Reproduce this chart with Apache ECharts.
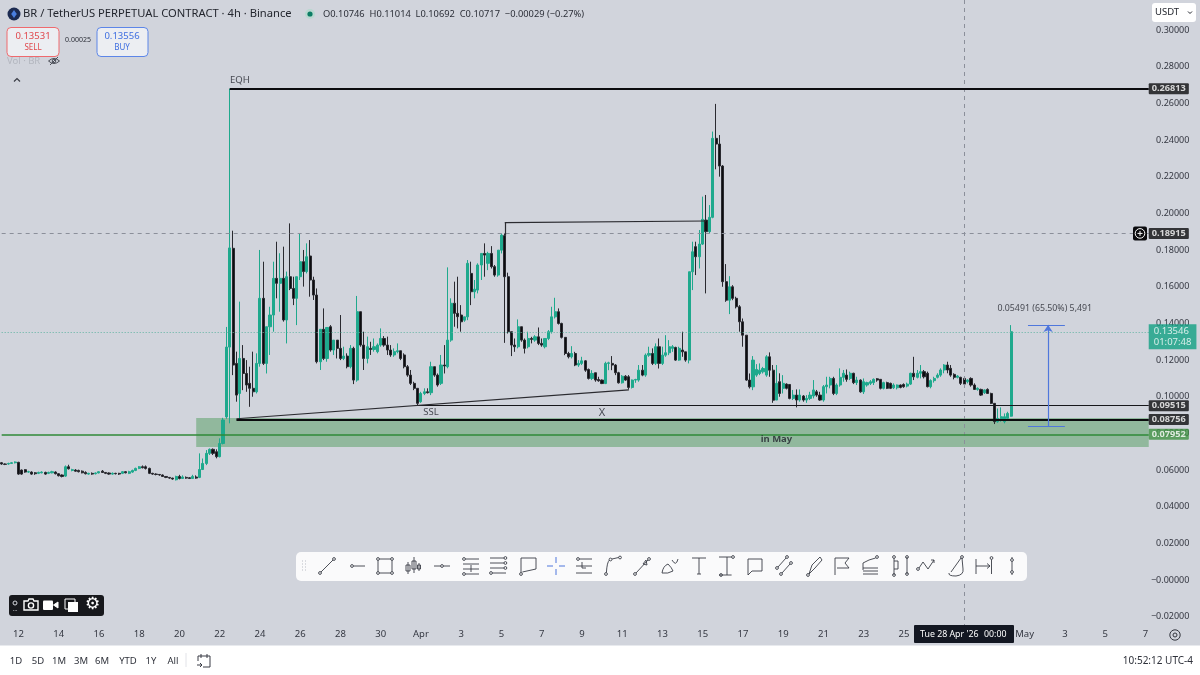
<!DOCTYPE html>
<html lang="en">

<head>
  <meta charset="UTF-8" />
  <title>BR / TetherUS 4h</title>
  <style>
    * {
      padding: 0;
      margin: 0;
    }

    html,
    body {
      width: 100%;
      height: 100%;
      background: #d1d4dc;
    }

    #chart {
      width: 1200px;
      height: 675px;
    }
  </style>
</head>

<body>
  <div id="chart"></div>
  <script src="https://cdn.jsdelivr.net/npm/echarts@6/dist/echarts.min.js"></script>
  <script>
    // candle rows are [open, close, low, high], one per 4h bar, first bar is Mar 11 04:00
    var candlesFlatMarch = [
      [.0640,.0633,.0629,.0644],[.0633,.0631,.0627,.0636],[.0633,.0636,.0629,.0640],[.0636,.0640,.0633,.0644],[.0640,.0644,.0636,.0647],
      [.0642,.0578,.0574,.0645],[.0600,.0578,.0574,.0603],[.0602,.0589,.0585,.0605],[.0589,.0591,.0585,.0596],[.0589,.0578,.0574,.0593],
      [.0585,.0580,.0574,.0589],[.0582,.0587,.0578,.0591],[.0585,.0589,.0582,.0593],[.0587,.0578,.0574,.0591],[.0582,.0587,.0578,.0591],
      [.0585,.0591,.0582,.0596],[.0589,.0580,.0576,.0593],[.0580,.0569,.0565,.0582],[.0573,.0565,.0560,.0576],[.0567,.0618,.0563,.0625],
      [.0618,.0607,.0603,.0629],[.0598,.0602,.0593,.0607],[.0600,.0594,.0591,.0605],[.0598,.0591,.0587,.0602],[.0594,.0585,.0582,.0598],
      [.0587,.0580,.0576,.0593],[.0578,.0582,.0574,.0585],[.0582,.0578,.0574,.0587],[.0580,.0584,.0576,.0587],[.0584,.0591,.0582,.0594],
      [.0594,.0587,.0585,.0600],[.0587,.0582,.0578,.0589],[.0584,.0578,.0574,.0587],[.0578,.0582,.0574,.0587],[.0582,.0580,.0576,.0585],
      [.0582,.0578,.0573,.0585],[.0582,.0591,.0578,.0594],[.0591,.0585,.0582,.0594],[.0582,.0591,.0578,.0596],[.0589,.0598,.0585,.0602],
      [.0598,.0609,.0594,.0613],[.0609,.0618,.0605,.0622],[.0618,.0613,.0609,.0625],[.0618,.0609,.0603,.0625],[.0609,.0582,.0578,.0613],
      [.0582,.0578,.0574,.0585],[.0578,.0576,.0571,.0582],[.0576,.0573,.0569,.0578],[.0573,.0565,.0562,.0576],[.0565,.0560,.0556,.0567],
      [.0560,.0556,.0552,.0562],[.0556,.0551,.0547,.0558],[.0547,.0565,.0543,.0569],[.0565,.0554,.0549,.0574],[.0554,.0562,.0551,.0571],
      [.0560,.0556,.0552,.0565],[.0558,.0554,.0551,.0562],[.0554,.0565,.0551,.0574],[.0562,.0556,.0552,.0571],[.0560,.0603,.0556,.0691],
      [.0603,.0636,.0600,.0663],[.0636,.0691,.0627,.0709],[.0691,.0713,.0682,.0718],[.0713,.0691,.0682,.0718],[.0700,.0673,.0664,.0713],
      [.0673,.0745,.0669,.0773],[.0745,.0873,.0740,.0885]
    ]
    var candlesSpikeRange = [
      [.0890,.1271,.0880,.1381],[.1271,.1812,.0855,.2681],[.1810,.1173,.1118,.1906],[.1182,.1009,.0973,.1246],[.1018,.1209,.0882,.1519],
      [.1209,.1127,.1036,.1282],[.1127,.1064,.1027,.1200],[.1073,.1046,.0945,.1164],[.1046,.1027,.1000,.1246],[.1027,.1182,.1018,.1237],
      [.1182,.1537,.1164,.1801],[.1537,.1182,.1173,.1737],[.1182,.1382,.1127,.1382],[.1382,.1446,.1228,.1491],[.1446,.1646,.1355,.1737],
      [.1646,.1619,.1537,.1846],[.1619,.1646,.1464,.1783],[.1646,.1419,.1410,.1819],[.1419,.1655,.1291,.1683],[.1655,.1591,.1582,.1946],
      [.1591,.1537,.1500,.1655],[.1537,.1655,.1391,.1655],[.1655,.1737,.1637,.1892],[.1737,.1683,.1601,.1801],[.1683,.1764,.1673,.1837],
      [.1768,.1637,.1546,.1855],[.1637,.1555,.1528,.1655],[.1555,.1191,.1182,.1591],[.1191,.1368,.1146,.1368],[.1368,.1209,.1200,.1482],
      [.1209,.1378,.1191,.1378],[.1382,.1255,.1246,.1391],[.1255,.1309,.1228,.1309],[.1309,.1264,.1209,.1309],[.1264,.1209,.1200,.1446],
      [.1209,.1222,.1200,.1273],[.1222,.1164,.1155,.1237],[.1164,.1264,.1155,.1282],[.1264,.1091,.1069,.1273],[.1091,.1464,.1082,.1550],
      [.1464,.1282,.1273,.1464],[.1282,.1209,.1146,.1355],[.1209,.1273,.1182,.1328],[.1264,.1258,.1228,.1300],[.1258,.1273,.1246,.1318],
      [.1246,.1282,.1237,.1291],[.1282,.1318,.1273,.1373],[.1318,.1282,.1273,.1331],[.1282,.1255,.1228,.1328],[.1255,.1228,.1218,.1282],
      [.1228,.1246,.1218,.1264],[.1246,.1251,.1237,.1291],[.1251,.1209,.1200,.1251],[.1228,.1164,.1155,.1237],[.1164,.1118,.1109,.1173],
      [.1118,.1073,.1064,.1146],[.1073,.1046,.1036,.1082],[.1046,.0964,.0954,.1046],[.0973,.1018,.0967,.1027],[.1018,.1027,.1009,.1046],
      [.1027,.1022,.1018,.1046],[.1022,.1164,.1009,.1191],[.1164,.1118,.1109,.1164],[.1118,.1064,.1055,.1127],[.1073,.1173,.1064,.1228],
      [.1173,.1168,.1127,.1282],[.1164,.1309,.1155,.1706],[.1309,.1510,.1300,.1537],[.1510,.1455,.1382,.1628],[.1455,.1437,.1373,.1655]
    ]
    var candlesEarlyApril = [
      [.1446,.1409,.1355,.1500],[.1418,.1436,.1409,.1436],[.1436,.1728,.1418,.1746],[.1673,.1573,.1500,.1737],[.1573,.1587,.1537,.1637],
      [.1582,.1719,.1564,.1728],[.1719,.1782,.1637,.1782],[.1782,.1773,.1655,.1837],[.1728,.1782,.1691,.1791],[.1782,.1710,.1700,.1822],
      [.1710,.1664,.1655,.1719],[.1664,.1800,.1655,.1800],[.1800,.1882,.1782,.1891],[.1879,.1655,.1294,.1891],[.1655,.1355,.1345,.1677],
      [.1355,.1282,.1222,.1355],[.1282,.1273,.1245,.1318],[.1273,.1382,.1264,.1422],[.1382,.1309,.1300,.1382],[.1309,.1264,.1236,.1318],
      [.1273,.1318,.1264,.1355],[.1318,.1313,.1291,.1327],[.1309,.1327,.1300,.1336],[.1327,.1291,.1282,.1378],[.1291,.1282,.1273,.1318],
      [.1273,.1318,.1264,.1318],[.1318,.1355,.1309,.1364],[.1355,.1436,.1345,.1491],[.1436,.1464,.1427,.1540],[.1464,.1400,.1394,.1482],
      [.1400,.1324,.1318,.1404],[.1324,.1236,.1227,.1324],[.1236,.1218,.1209,.1245],[.1218,.1236,.1209,.1276],[.1236,.1173,.1167,.1245],
      [.1173,.1182,.1163,.1200],[.1182,.1196,.1173,.1218],[.1196,.1145,.1136,.1200],[.1149,.1100,.1094,.1154],[.1100,.1127,.1091,.1145],
      [.1131,.1091,.1082,.1131],[.1094,.1087,.1082,.1109],[.1091,.1072,.1069,.1094],[.1072,.1182,.1069,.1191],[.1182,.1185,.1145,.1191],
      [.1182,.1173,.1145,.1222],[.1173,.1131,.1118,.1178],[.1131,.1076,.1072,.1136],[.1076,.1112,.1072,.1118],[.1112,.1091,.1087,.1118],
      [.1109,.1051,.1040,.1118],[.1051,.1091,.1045,.1094],[.1091,.1094,.1076,.1098],[.1091,.1145,.1082,.1173],[.1145,.1118,.1112,.1173],
      [.1118,.1227,.1109,.1236],[.1227,.1236,.1218,.1273],[.1236,.1182,.1173,.1264],[.1182,.1273,.1173,.1291],[.1273,.1182,.1154,.1318],
      [.1182,.1227,.1173,.1273],[.1227,.1240,.1218,.1336],[.1240,.1273,.1227,.1309],[.1264,.1273,.1245,.1282],[.1269,.1200,.1196,.1273],
      [.1200,.1264,.1196,.1273],[.1255,.1245,.1218,.1355],[.1245,.1200,.1191,.1245]
    ]
    var candlesMidApril = [
      [.1200,.1682,.1182,.1682],[.1682,.1791,.1582,.1846],[.1819,.1764,.1664,.1846],[.1764,.1833,.1700,.1910],[.1833,.1968,.1828,.2092],
      [.1964,.1901,.1564,.2101],[.1901,.1979,.1891,.2046],[.1979,.2410,.1974,.2447],[.2410,.2379,.2241,.2598],[.2379,.2259,.2201,.2428],
      [.2259,.1628,.1600,.2264],[.1628,.1527,.1518,.1724],[.1527,.1600,.1451,.1658],[.1600,.1537,.1527,.1609],[.1537,.1491,.1482,.1546],
      [.1491,.1409,.1355,.1500],[.1409,.1336,.1273,.1427],[.1336,.1091,.1087,.1336],[.1091,.1054,.1045,.1127],[.1054,.1200,.1036,.1222],
      [.1118,.1149,.1109,.1178],[.1127,.1145,.1118,.1182],[.1136,.1154,.1127,.1163],[.1118,.1218,.1109,.1227],[.1218,.1145,.1109,.1242],
      [.1145,.0981,.0967,.1173]
    ]
    var candlesLateApril = [
      [.0982,.1073,.0982,.1173],[.1082,.1018,.1000,.1128],[.1046,.1073,.1018,.1118],[.1069,.1046,.1040,.1073],[.1067,.0991,.0986,.1067],
      [.0991,.1009,.0982,.1037],[.1009,.0982,.0942,.1040],[.0982,.1009,.0973,.1040],[.1004,.0982,.0973,.1009],[.0982,.0991,.0967,.1009],
      [.0991,.1009,.0982,.1027],[.1004,.1037,.0991,.1091],[.1027,.1009,.1000,.1037],[.1009,.0982,.0978,.1027],[.0982,.1055,.0973,.1064],
      [.1055,.1064,.1018,.1109],[.1064,.1100,.1046,.1109],[.1100,.1018,.1009,.1109],[.1018,.1064,.1009,.1073],[.1064,.1106,.1055,.1155],
      [.1106,.1128,.1082,.1146],[.1118,.1095,.1082,.1149],[.1100,.1128,.1091,.1137],[.1128,.1077,.1069,.1131],[.1077,.1091,.1064,.1109],
      [.1091,.1027,.1022,.1095],[.1027,.1082,.1015,.1100],[.1064,.1077,.1055,.1082],[.1073,.1082,.1064,.1091],[.1077,.1095,.1064,.1100],
      [.1098,.1091,.1082,.1102],[.1095,.1046,.1040,.1095],[.1046,.1077,.1040,.1082],[.1077,.1046,.1042,.1082],[.1073,.1046,.1042,.1077],
      [.1049,.1064,.1042,.1073],[.1049,.1064,.1040,.1067],[.1064,.1051,.1046,.1067],[.1067,.1055,.1049,.1073],[.1058,.1069,.1051,.1077],
      [.1069,.1128,.1064,.1131],[.1128,.1109,.1091,.1218],[.1106,.1128,.1100,.1146],[.1128,.1137,.1100,.1173],[.1137,.1109,.1100,.1146],
      [.1128,.1055,.1051,.1137],[.1055,.1088,.1046,.1095],[.1088,.1100,.1077,.1109],[.1106,.1118,.1100,.1128],[.1118,.1146,.1109,.1155],
      [.1146,.1173,.1128,.1178],[.1173,.1146,.1128,.1191],[.1155,.1118,.1109,.1173],[.1122,.1106,.1095,.1128],[.1106,.1113,.1100,.1118],
      [.1106,.1073,.1064,.1109],[.1100,.1069,.1064,.1106],[.1082,.1091,.1073,.1095],[.1100,.1064,.1055,.1106],[.1064,.1040,.1037,.1073],
      [.1040,.1046,.1033,.1051],[.1040,.1009,.1004,.1044],[.1022,.1037,.1015,.1040],[.1040,.1018,.1015,.1046],[.1018,.0964,.0960,.1022],
      [.0964,.0864,.0851,.0964],[.0864,.0882,.0858,.0936],[.0876,.0891,.0864,.0942],[.0864,.0891,.0855,.0909],[.0882,.0909,.0873,.0918],
      [.0894,.1355,.0891,.1391]
    ]

    var priceTicks = [-0.02, 0, 0.02, 0.04, 0.06, 0.08, 0.1, 0.12, 0.14, 0.16, 0.18, 0.2, 0.22, 0.24, 0.26, 0.28, 0.3]
    var priceMin = -0.0251
    var priceMax = 0.3165
    var dayTicks = {
      '03-12': '12', '03-14': '14', '03-16': '16', '03-18': '18', '03-20': '20', '03-22': '22', '03-24': '24',
      '03-26': '26', '03-28': '28', '03-30': '30', '04-01': 'Apr', '04-03': '3', '04-05': '5', '04-07': '7',
      '04-09': '9', '04-11': '11', '04-13': '13', '04-15': '15', '04-17': '17', '04-19': '19', '04-21': '21',
      '04-23': '23', '04-25': '25', '05-01': 'May', '05-03': '3', '05-05': '5', '05-07': '7'
    }
    var barCount = 343

    // bar index, price
    var eqhLine = [[68, 0.26813], [342, 0.26813]]
    var sslLine = [[70, 0.08756], [342, 0.08756]]
    var upperLevelLine = [[124, 0.09515], [342, 0.09515]]
    var mayLevelLine = [[0, 0.07952], [342, 0.07952]]
    var risingLine = [[70, 0.0880], [187, 0.1037]]
    var swingHighLine = [[150, 0.1879], [150, 0.1950], [210, 0.1959]]
    var measureTop = [[306, 0.1392], [317, 0.1392]]
    var measureBottom = [[306, 0.0840], [317, 0.0840]]
    var crossPrice = 0.18915
    var crossBar = 287
    var lastPrice = 0.13546
    var zoneBars = [58, 342]
    var zonePrices = [0.0884, 0.0726]

    var annotations = [
      [71, 0.2729, 'EQH', 9.5],
      [128, 0.0917, 'SSL', 9.5],
      [179, 0.0911, 'X', 11],
      [231, 0.0769, 'in May', 9.5],
      [311, 0.1484, '0.05491 (65.50%) 5,491', 8.8]
    ]
    var priceTags = [
      [0.26813, '#0b0b0e'],
      [0.18915, '#0b0b0e'],
      [0.09515, '#0b0b0e'],
      [0.08756, '#0b0b0e'],
      [0.07952, '#3f9142']
    ]

    var candles = candlesFlatMarch.concat(candlesSpikeRange, candlesEarlyApril, candlesMidApril, candlesLateApril)
    var categories = []
    for (var i = 0; i < barCount; i++) {
      var d = new Date(Date.UTC(2026, 2, 11, 4) + i * 4 * 3600000)
      categories.push(d.toISOString().slice(5, 10) + ' ' + d.toISOString().slice(11, 16))
    }

    var FONT = '"Noto Sans", sans-serif'
    var INK = '#2f323b'
    var chart = echarts.init(document.getElementById('chart'))

    function seg(points, width, color, type) {
      var out = []
      for (var n = 0; n < points.length - 1; n++) {
        out.push([
          { coord: points[n], lineStyle: { width: width, color: color, type: type || 'solid' } },
          { coord: points[n + 1] }
        ])
      }
      return out
    }

    var markLines = [].concat(
      seg([[crossBar, priceMax], [crossBar, priceMin]], 1, '#8b8f9a', [4, 4]),
      seg([[0, crossPrice], [342, crossPrice]], 1, '#8b8f9a', [4, 4]),
      seg([[0, lastPrice], [342, lastPrice]], 1, '#5fb3a1', [1, 2]),
      seg(eqhLine, 2, '#0b0b0e'),
      seg(sslLine, 2, '#0b0b0e'),
      seg(upperLevelLine, 1.2, '#17171b'),
      seg(mayLevelLine, 1.5, '#2f8a38'),
      seg(risingLine, 1.2, '#2b2b30'),
      seg(swingHighLine, 1.2, '#2b2b30'),
      seg(measureTop, 1.2, '#4f77dc'),
      seg(measureBottom, 1.2, '#4f77dc')
    )
    var measureArrow = [
      { coord: [312, 0.0840], symbol: 'none', lineStyle: { width: 1.2, color: '#4f77dc', type: 'solid' } },
      { coord: [312, 0.1392], symbol: 'arrow', symbolSize: 7 }
    ]
    markLines.push(measureArrow)

    // chrome of the trading page, not chart data
    var ui = []
    var iconCount = 0
    function text(x, y, str, size, color, align, weight) {
      ui.push({
        type: 'text', x: x, y: y, z: 110, silent: true,
        style: {
          text: str, fontSize: size, fontFamily: FONT, fill: color,
          align: align || 'left', verticalAlign: 'middle', fontWeight: weight || 'normal'
        }
      })
    }
    function box(x, y, w, h, fill, stroke, r, z) {
      ui.push({
        type: 'rect', z: z || 105, silent: true,
        shape: { x: x, y: y, width: w, height: h, r: r || 0 },
        style: { fill: fill, stroke: stroke || 'none', lineWidth: 1 }
      })
    }
    function ico(x, y, path, stroke, fill, width) {
      // graphic has no plain path type, so each icon is registered as its own shape
      var name = 'uiIcon' + iconCount++
      echarts.graphic.registerShape(name, echarts.graphic.extendPath(path, {}))
      ui.push({
        type: name, x: x, y: y, z: 112, silent: true,
        style: { fill: fill || 'none', stroke: stroke || INK, lineWidth: width || 1 }
      })
    }
    function dot(x, y, r) {
      r = r || 1.4
      return 'M' + (x - r) + ' ' + y + 'a' + r + ' ' + r + ' 0 1 0 ' + 2 * r + ' 0a' + r + ' ' + r + ' 0 1 0 ' + -2 * r + ' 0'
    }

    // bottom strip and header
    box(0, 645.5, 1200, 30, '#ffffff')
    ui.push({ type: 'circle', z: 110, silent: true, shape: { cx: 14, cy: 14, r: 6.5 }, style: { fill: '#1c2b52' } })
    ico(14, 14, 'M0 -4L2.8 0L0 4L-2.8 0Z', 'none', '#4a7fe0')
    text(23, 14, 'BR / TetherUS PERPETUAL CONTRACT \u00b7 4h \u00b7 Binance', 11.2, '#23262e')
    ui.push({ type: 'circle', z: 110, silent: true, shape: { cx: 310, cy: 14, r: 5 }, style: { fill: '#b9d8d0' } })
    ui.push({ type: 'circle', z: 111, silent: true, shape: { cx: 310, cy: 14, r: 2.6 }, style: { fill: '#0c7d65' } })
    text(323, 14, 'O0.10746  H0.11014  L0.10692  C0.10717  \u22120.00029 (\u22120.27%)', 9.3, '#2c2f38')
    box(7, 27.5, 52, 29, '#eceef2', '#ef6a6e', 4)
    text(33, 36, '0.13531', 9.5, '#e0484d', 'center')
    text(33, 48, 'SELL', 8, '#e0484d', 'center')
    text(78, 40, '0.00025', 7, '#2c2f38', 'center')
    box(97, 27.5, 51, 29, '#eceef2', '#5d86e8', 4)
    text(122, 36, '0.13556', 9.5, '#3f6fe0', 'center')
    text(122, 48, 'BUY', 8, '#3f6fe0', 'center')
    text(7, 61, 'Vol \u00b7 BR', 9.5, '#b3b6bf')
    ico(54, 61, 'M-5.5 0Q0 -5 5.5 0Q0 5 -5.5 0Z' + dot(0, 0, 1.8) + 'M-4 4L4 -4', '#4b4e58')
    ico(17, 80, 'M-3 1.5L0 -1.5L3 1.5', '#3a3d46', 'none', 1.2)

    // USDT selector
    box(1152, 3, 44, 19, '#ffffff', 'none', 3)
    text(1155, 12.5, 'USDT', 9.5, '#23262e')
    ico(1190, 12.5, 'M-2 -1L0 1L2 -1', '#23262e')

    // plus badge on the crosshair price
    box(1133, 226.5, 14, 14, '#0b0b0e', 'none', 2)
    ico(1140, 233.4, dot(0, 0, 4.8) + 'M-2.5 0L2.5 0M0 -2.5L0 2.5', '#ffffff')

    // crosshair date
    box(914, 625, 100, 18, '#131722', 'none', 1)
    text(920, 634.5, "Tue 28 Apr '26", 8.8, '#ffffff')
    text(984, 634.5, '00:00', 8.8, '#ffffff')

    // axis settings gear
    ico(1175, 635, dot(0, 0, 2) + dot(0, 0, 5.2), '#34373f')

    // drawing toolbar
    box(296, 552, 731, 29, '#fafafb', 'none', 5, 104)
    var toolX = [327, 357, 385, 413, 442, 471, 498, 528, 556, 584, 613, 642, 670, 699, 727, 755, 784, 814, 842, 870, 898, 926, 956, 984, 1012]
    var toolPaths = [
      dot(-7, 7) + 'M-6 6L6 -6' + dot(7, -7),
      dot(-5, 0) + 'M-3.5 0L8 0',
      dot(-7, -7) + dot(7, -7) + dot(-7, 7) + dot(7, 7) + 'M-5.6 -7L5.6 -7M7 -5.6L7 5.6M5.6 7L-5.6 7M-7 5.6L-7 -5.6',
      'M-5 -4L-5 8M-7 -1L-3 -1L-3 5L-7 5ZM1 -9L1 7M-1 -5L3 -5L3 3L-1 3ZM6 -3L6 5M4.5 -1L7.5 -1L7.5 3L4.5 3Z',
      'M-8 0L-1.4 0' + dot(0, 0) + 'M1.4 0L8 0',
      dot(-7, -7) + 'M-5.6 -7L8 -7M-8 -2L8 -2M-8 3L8 3' + dot(-7, 8) + 'M-5.6 8L8 8M0 -1L0 6',
      'M-8 -8L6 -8' + dot(7.4, -8) + 'M-8 -3L6 -3' + dot(7.4, -3) + 'M-8 2L6 2' + dot(7.4, 2) + dot(-7, 7) + 'M-5.6 7L8 7',
      dot(-7, 8) + 'M-7 6.6L-7 -8L8 -8L8 3L-5.6 6',
      'BLUE',
      dot(-6, -7) + 'M-4.6 -7L8 -7M-8 0L8 0M-8 7L8 7M-2 -4L-2 2L2 2',
      dot(-7, 8) + 'M-6.6 6.6Q-6 -4 -3.5 -6' + dot(-2.5, -6.5) + 'M-1 -7L5.6 -8.5' + dot(7, -8.5),
      dot(-7, 8) + 'M-6 7L6 -6' + dot(7, -7) + 'M1 -2L4 -6L5 -1Z',
      'M-8 7Q-7 0 -2 -2Q2 2 3 5Q-2 8 -8 7ZM2 -6Q6 1 8 -7',
      'M-7 -8L7 -8M0 -8L0 8M-2 8L2 8',
      dot(6, -9) + 'M-8 -9L4.6 -9M0 -9L0 9M-8 9L4.6 9' + dot(-6, 9),
      'M-7 -7L7 -7L7 5L-3 5L-7 9Z',
      dot(-7, 2) + 'M-6 1L2 -8' + dot(3, -9) + dot(-3, 8) + 'M-2 7L6 -2' + dot(7, -3),
      dot(-6, 9) + 'M-5 8L-2 -1L6 -9L8 -6L1 2Z',
      'M-7 9L-7 -8L7 -8L3 -3L7 2L-5 2',
      dot(7, -9) + 'M5.6 -8L-1 -6L-7 -3L-7 4M-7 2L8 2M-7 5L8 5M-7 8L8 8',
      dot(-4, -9) + 'M-4 -7.6L-4 9' + dot(-4, 9) + 'M-4 -5L0 -5L0 3L-4 3M9 -9L9 8' + dot(9, -9) + dot(9, 8),
      dot(-8, 3) + 'M-7 2L-3 -4L2 3L8 -6M5 -6L8 -6L8 -3',
      dot(6, -9) + 'M5 -8L-5 6M-7 7Q-8 10 0 10Q8 9 7 3L6 -8',
      'M-8 -7L-8 8M-8 0L6 0M3 -2.5L6 0L3 2.5' + dot(7.5, -8) + 'M7.5 -6.6L7.5 8',
      dot(0, -6) + 'M0 -9L0 -7.4M0 -4.6L0 4.6' + dot(0, 6) + 'M0 7.4L0 9'
    ]
    toolPaths.forEach(function (p, n) {
      if (p === 'BLUE') {
        ico(toolX[n], 566, 'M-9 0L-3 0M3 0L9 0M0 -9L0 -3M0 3L0 9', '#4f77dc')
      } else {
        ico(toolX[n], 566, p, '#3a3d46', 'none', 0.9)
      }
    })
    ico(304, 566, 'M-2 -5L-1 -5M1 -5L2 -5M-2 -2L-1 -2M1 -2L2 -2M-2 1L-1 1M1 1L2 1M-2 4L-1 4M1 4L2 4', '#b9bcc4')

    // capture toolbar
    box(9, 595, 95, 21, '#17181c', 'none', 3)
    ico(15, 603, dot(0, 0, 2), '#d5d7dd')
    text(15, 609, '\u2026', 6, '#d5d7dd', 'center')
    ico(31, 605, 'M-7 -4L-3 -4L-2 -6L2 -6L3 -4L7 -4L7 5L-7 5Z' + dot(0, 0.5, 2.6), '#ffffff', 'none', 1.4)
    box(43, 600.5, 10, 9.5, '#ffffff', 'none', 1, 111)
    ico(55, 605, 'M-1.5 0L3 -3L3 3Z', '#ffffff', '#ffffff')
    box(65, 599, 10, 10, '#17181c', '#ffffff', 0, 111)
    box(68, 602, 10, 10, '#ffffff', 'none', 0, 112)
    text(92, 604.5, '\u2699', 17, '#ffffff', 'center')

    // range buttons
    var rangeLabels = ['1D', '5D', '1M', '3M', '6M', 'YTD', '1Y', 'All']
    var rangeX = [16, 38, 59, 81, 102, 128, 151, 173]
    rangeLabels.forEach(function (lbl, n) {
      text(rangeX[n], 661, lbl, 9.5, '#2f323b', 'center')
    })
    ico(186, 660, 'M0 -7L0 7', '#e2e3e8')
    ico(204, 661, 'M-6 0L-6 -5L6 -5L6 6L-1 6M-3 -7L-3 -3M3 -7L3 -3M-7 4L-2 4M-4 2L-2 4L-4 6', '#3a3d46')
    text(1193, 661, '10:52:12 UTC-4', 10, '#2f323b', 'right')

    var option = {
      animation: false,
      backgroundColor: '#d1d4dc',
      textStyle: { fontFamily: FONT },
      grid: { left: 0, top: 0, width: 1150.4, height: 626, outerBoundsMode: 'none' },
      xAxis: {
        type: 'category',
        data: categories,
        boundaryGap: true,
        axisLine: { show: false },
        axisTick: { show: false },
        splitLine: { show: false },
        axisLabel: {
          margin: 3,
          fontSize: 9.5,
          fontFamily: FONT,
          color: '#343741',
          interval: function (index, value) {
            return value.slice(6) === '00:00' && dayTicks[value.slice(0, 5)] !== undefined
          },
          formatter: function (value) {
            return dayTicks[value.slice(0, 5)]
          }
        }
      },
      yAxis: {
        type: 'value',
        position: 'right',
        min: priceMin,
        max: priceMax,
        axisLine: { show: false },
        axisTick: { show: false },
        splitLine: { show: false },
        axisLabel: {
          margin: 39,
          align: 'right',
          fontSize: 9,
          fontFamily: FONT,
          color: '#343741',
          customValues: priceTicks,
          showMinLabel: true,
          showMaxLabel: true,
          formatter: function (v) {
            return v <= 0 ? '\u2212' + Math.abs(v).toFixed(5) : v.toFixed(5)
          }
        }
      },
      series: [
        {
          type: 'candlestick',
          data: candles,
          barWidth: 2.6,
          silent: true,
          itemStyle: {
            color: '#1fa98d',
            color0: '#0d0d10',
            borderColor: '#1fa98d',
            borderColor0: '#2a2a30',
            borderWidth: 1
          },
          markArea: {
            silent: true,
            itemStyle: { color: 'rgba(67,150,80,0.45)' },
            data: [[
              { coord: [zoneBars[0], zonePrices[0]] },
              { coord: [zoneBars[1], zonePrices[1]] }
            ]]
          },
          markLine: {
            silent: true,
            symbol: 'none',
            animation: false,
            label: { show: false },
            data: markLines
          }
        },
        {
          // text notes on the chart
          type: 'scatter',
          silent: true,
          symbolSize: 0,
          z: 6,
          data: annotations.map(function (a) {
            return {
              value: [a[0], a[1]],
              label: {
                show: true,
                position: 'inside',
                formatter: a[2],
                fontSize: a[3],
                fontFamily: FONT,
                fontWeight: a[2] === 'in May' ? 'bold' : 'normal',
                color: '#23262e'
              }
            }
          })
        },
        {
          // price tags on the axis
          type: 'scatter',
          silent: true,
          symbolSize: 0,
          z: 7,
          clip: false,
          data: priceTags.map(function (t) {
            return {
              value: [342, t[0]],
              label: {
                show: true,
                position: 'right',
                distance: 0,
                formatter: t[0].toFixed(5),
                backgroundColor: t[1],
                color: '#ffffff',
                fontSize: 9.2,
                fontFamily: FONT,
                fontWeight: 'bold',
                padding: [1, 3, 1, 3],
                borderRadius: 1
              }
            }
          }).concat([{
            value: [342, lastPrice],
            label: {
              show: true,
              position: 'right',
              distance: 0,
              offset: [0, 5],
              formatter: lastPrice.toFixed(5) + '\n01:07:48',
              backgroundColor: '#12a083',
              color: '#ffffff',
              fontSize: 9.5,
              lineHeight: 11.5,
              fontFamily: FONT,
              padding: [1, 5, 1, 5]
            }
          }])
        }
      ],
      graphic: { elements: ui }
    }
    chart.setOption(option)
  </script>
</body>

</html>
